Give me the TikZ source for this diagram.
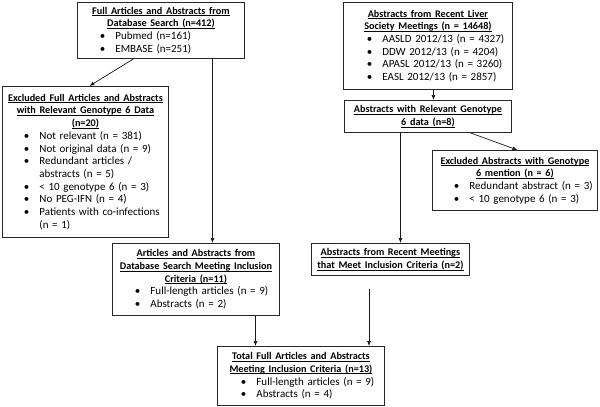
\documentclass[tikz,border=0pt]{standalone}
\usepackage{fontspec}
\setmainfont{Carlito}
\usetikzlibrary{arrows.meta}
\newcommand{\ulx}[1]{\leavevmode\setbox0\hbox{#1}\rlap{\rule[-1.6pt]{\wd0}{0.65pt}}\box0}
\newcommand{\hd}[1]{{\centering\fontsize{10.2}{12.7}\selectfont\bfseries #1\par}}
\newcommand{\bstart}{\leftskip=36pt\relax}
\newcommand{\bit}[1]{\noindent\llap{\textbullet\hspace{10pt}}#1\par}
\tikzset{
  box/.style={draw=black!85, line width=0.9pt, inner xsep=2pt, inner ysep=0pt,
    anchor=north west, font=\fontsize{11}{12.7}\selectfont},
  arr/.style={draw=black!90, line width=0.7pt, -{Latex[length=5pt,width=4pt]}}
}
\begin{document}
\begin{tikzpicture}[x=1pt,y=-1pt]
\useasboundingbox[fill=white] (0,0) rectangle (600,407);

\node[box, text width=163pt, minimum height=56pt] (b1) at (77,2)
  {\hd{\ulx{Full Articles and Abstracts from}\\\ulx{Database Search (n=412)}}
   \bstart\bit{Pubmed (n=161)}\bit{EMBASE (n=251)}};

\node[box, text width=165pt, minimum height=87pt] (b2) at (343,2)
  {\hd{\ulx{Abstracts from Recent Liver}\\\ulx{Society Meetings (n = 14648)}}
   \leftskip=37pt\relax\bit{AASLD 2012/13 (n = 4327)}\bit{DDW 2012/13 (n = 4204)}%
   \bit{APASL 2012/13 (n = 3260)}\bit{EASL 2012/13 (n = 2857)}};

\node[box, text width=162pt, minimum height=151pt] (b3) at (2,86)
  {\hd{\ulx{Excluded Full Articles and Abstracts}\\\ulx{with Relevant Genotype 6 Data}\\\ulx{(n=20)}}
   \leftskip=35pt\relax\bit{Not relevant (n = 381)}\bit{Not original data (n = 9)}%
   \bit{Redundant articles /\\abstracts (n = 5)}\bit{< 10 genotype 6 (n = 3)}%
   \bit{No PEG-IFN (n = 4)}\bit{Patients with co-infections\\(n = 1)}};

\node[box, text width=163pt, minimum height=32pt] (b4) at (344,100)
  {\hd{\ulx{Abstracts with Relevant Genotype}\\\ulx{6 data (n=8)}}};

\node[box, text width=161pt, minimum height=60pt] (b5) at (432,150)
  {\hd{\ulx{Excluded Abstracts with Genotype}\\\ulx{6 mention (n = 6)}}
   \leftskip=35pt\relax\bit{Redundant abstract (n = 3)}\bit{< 10 genotype 6 (n = 3)}};

\node[box, text width=163pt, minimum height=72pt] (b6) at (112,243)
  {\hd{\ulx{Articles and Abstracts from}\\\ulx{Database Search Meeting Inclusion}\\\ulx{Criteria (n=11)}}
   \bstart\bit{Full-length articles (n = 9)}\bit{Abstracts (n = 2)}};

\node[box, text width=154pt, minimum height=32pt] (b7) at (311,243)
  {\hd{\ulx{Abstracts from Recent Meetings}\\\ulx{that Meet Inclusion Criteria (n=2)}}};

\node[box, text width=163pt, minimum height=59pt] (b8) at (217,346)
  {\hd{\ulx{Total Full Articles and Abstracts}\\\ulx{Meeting Inclusion Criteria (n=13)}}
   \leftskip=37pt\relax\bit{Full-length articles (n = 9)}\bit{Abstracts (n = 4)}};

\coordinate (c7) at (369,289);

\draw[arr] ([xshift=-27.5pt]b1.south) -- ([xshift=4pt]b3.north);
\draw[arr] ([xshift=51.5pt]b1.south) -- ([xshift=51.5pt]b1.south |- b6.north);
\draw[arr] ([xshift=5.5pt]b2.south) -- ([xshift=5.5pt]b2.south |- b4.north);
\draw[arr] ([xshift=-27.5pt]b4.south) -- ([xshift=-27.5pt]b4.south |- b7.north);
\draw[arr] ([xshift=42.5pt]b4.south) -- ([xshift=2.5pt]b5.north);
\draw[arr] ([xshift=59.5pt]b6.south) -- ([xshift=59.5pt]b6.south |- b8.north);
\draw[arr] (c7) -- (c7 |- b8.north);
\end{tikzpicture}
\end{document}
